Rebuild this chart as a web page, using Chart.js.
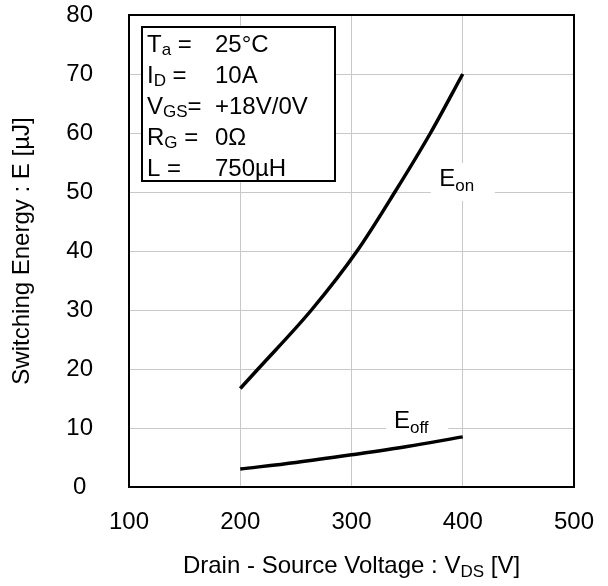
<!DOCTYPE html>
<html>
<head>
<meta charset="utf-8">
<script src="https://cdn.jsdelivr.net/npm/chart.js@4.4.1/dist/chart.umd.min.js"></script>
<style>
  html, body { margin: 0; padding: 0; background: #fff; }
  canvas { display: block; }
</style>
</head>
<body>
<canvas id="chart" width="608" height="586"></canvas>
<script>
// values
var onVoltage = [200, 216, 264, 305, 339, 371, 400];
var onEnergy = [16.7, 20, 30, 40, 50, 60, 70];
var offVoltage = [200, 250, 300, 350, 400];
var offEnergy = [3.05, 4.15, 5.45, 6.85, 8.5];

var xTicks = [100, 200, 300, 400, 500];
var yTicks = [0, 10, 20, 30, 40, 50, 60, 70, 80];

// condition box rows: [main, subscript, after]
var condLabels = [["T", "a", " ="], ["I", "D", " ="], ["V", "GS", "="], ["R", "G", " ="], ["L", "", " ="]];
var condValues = ["25°C", "10A", "+18V/0V", "0Ω", "750µH"];

var FONT = "'Liberation Sans', Arial, sans-serif";
var big = "24px " + FONT;
var small = "17px " + FONT;

function toPoints(xs, ys) {
  var pts = [];
  for (var i = 0; i < xs.length; i++) pts.push({x: xs[i], y: ys[i]});
  return pts;
}

// draws text pieces, every second piece is a subscript
function drawSub(ctx, parts, x, y, align, drop) {
  var w = 0, k;
  for (k = 0; k < parts.length; k++) {
    ctx.font = (k % 2 === 1) ? small : big;
    w += ctx.measureText(parts[k]).width;
  }
  if (align === "center") x -= w / 2;
  ctx.textAlign = "left";
  ctx.textBaseline = "alphabetic";
  for (k = 0; k < parts.length; k++) {
    ctx.font = (k % 2 === 1) ? small : big;
    ctx.fillText(parts[k], x, (k % 2 === 1) ? y + drop : y);
    x += ctx.measureText(parts[k]).width;
  }
  return w;
}

var extras = {
  id: "extras",
  afterDatasetsDraw: function(chart) {
    var ctx = chart.ctx;
    var a = chart.chartArea;
    var xs = chart.scales.x, ys = chart.scales.y;
    ctx.save();

    // curve labels on white patches
    var lx = xs.getPixelForValue(400), ly = ys.getPixelForValue(50);
    ctx.fillStyle = "#fff";
    ctx.fillRect(lx - 32, ly - 29, 64, 38);
    ctx.fillStyle = "#000";
    drawSub(ctx, ["E", "on"], lx - 6, ly - 6, "center", 5);

    lx = xs.getPixelForValue(360); ly = ys.getPixelForValue(10);
    ctx.fillStyle = "#fff";
    ctx.fillRect(lx - 32, ly - 22, 62, 26);
    ctx.fillStyle = "#000";
    drawSub(ctx, ["E", "off"], lx - 7, ly, "center", 5);

    // condition box
    var bx = a.left + 13, by = a.top + 12, bw = 193, bh = 154;
    ctx.fillStyle = "#fff";
    ctx.fillRect(bx, by, bw, bh);
    ctx.lineWidth = 2;
    ctx.strokeStyle = "#000";
    ctx.strokeRect(bx, by, bw, bh);
    ctx.fillStyle = "#000";
    for (var r = 0; r < condLabels.length; r++) {
      var base = by + 24.5 + r * 31.2;
      drawSub(ctx, condLabels[r], bx + 5, base, "left", 3);
      ctx.font = big;
      ctx.fillText(condValues[r], bx + 73, base);
    }

    // plot frame
    ctx.lineWidth = 2;
    ctx.strokeRect(a.left, a.top, a.right - a.left, a.bottom - a.top);

    // x axis title with subscript
    drawSub(ctx, ["Drain - Source Voltage : V", "DS", " [V]"], (a.left + a.right) / 2, 573, "center", 4);
    ctx.restore();
  }
};

new Chart(document.getElementById("chart"), {
  type: "line",
  data: {
    datasets: [{
      label: "Eon",
      data: toPoints(onVoltage, onEnergy),
      borderColor: "#000",
      borderWidth: 3.5,
      pointRadius: 0,
      cubicInterpolationMode: "monotone",
      fill: false
    }, {
      label: "Eoff",
      data: toPoints(offVoltage, offEnergy),
      borderColor: "#000",
      borderWidth: 3.5,
      pointRadius: 0,
      cubicInterpolationMode: "monotone",
      fill: false
    }]
  },
  options: {
    responsive: false,
    animation: false,
    devicePixelRatio: 1,
    layout: { padding: { top: 15, right: 34, left: 0, bottom: 0 } },
    plugins: { legend: { display: false }, tooltip: { enabled: false } },
    scales: {
      x: {
        type: "linear",
        min: 100,
        max: 500,
        afterBuildTicks: function(scale) { scale.ticks = xTicks.map(function(v) { return {value: v}; }); },
        afterFit: function(scale) {
          scale.height = 99;
          scale.paddingLeft = 0;
          scale.paddingRight = 0;
        },
        ticks: { font: { family: FONT, size: 24 }, color: "#000", padding: 21, maxRotation: 0 },
        grid: { color: "#c8c8c8", lineWidth: 1, drawTicks: false },
        border: { display: false }
      },
      y: {
        min: 0,
        max: 80,
        afterBuildTicks: function(scale) { scale.ticks = yTicks.map(function(v) { return {value: v}; }); },
        afterFit: function(scale) {
          scale.width = 129;
          scale.paddingTop = 0;
          scale.paddingBottom = 0;
        },
        ticks: { font: { family: FONT, size: 24 }, color: "#000", padding: 36, crossAlign: "center" },
        grid: { color: "#c8c8c8", lineWidth: 1, drawTicks: false },
        border: { display: false },
        title: {
          display: true,
          text: "Switching Energy : E [µJ]",
          font: { family: FONT, size: 24 },
          color: "#000",
          padding: { top: 8, bottom: 0 }
        }
      }
    }
  },
  plugins: [extras]
});
</script>
</body>
</html>
